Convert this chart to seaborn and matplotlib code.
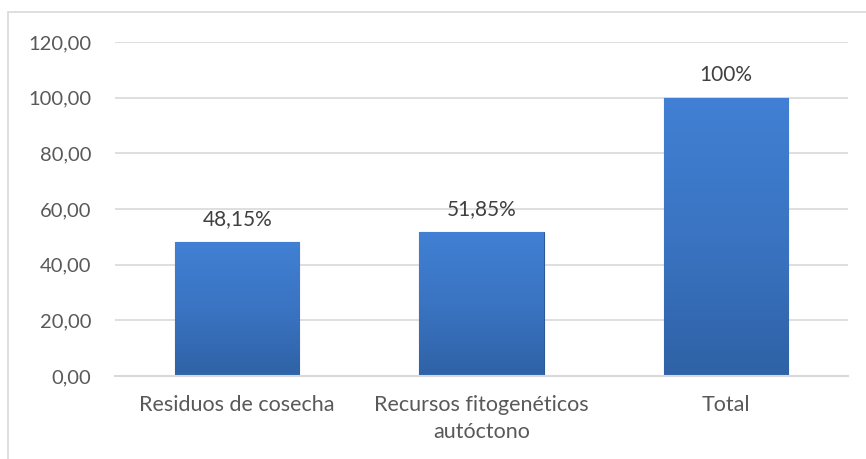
import numpy as np
import pandas as pd
import matplotlib
matplotlib.use("Agg")
import matplotlib.pyplot as plt
import seaborn as sns
from matplotlib.patches import Rectangle
from matplotlib.ticker import FuncFormatter

categories = ["Residuos de cosecha", "Recursos fitogenéticos\nautóctono", "Total"]
values = [48.15, 51.85, 100.0]
labels = ["48,15%", "51,85%", "100%"]
yticks = [0, 20, 40, 60, 80, 100, 120]

sns.set_theme(style="white")
plt.rcParams["font.family"] = ["Lato", "DejaVu Sans"]
text_color = "#595959"
grid_color = "#d9d9d9"

df = pd.DataFrame({"cat": categories, "val": values})

fig = plt.figure(figsize=(8.66, 4.59), dpi=100)
ax = fig.add_axes([115 / 866, 1 - 376 / 459, (848 - 115) / 866, (376 - 42) / 459])

sns.barplot(data=df, x="cat", y="val", ax=ax, color="#3b77c6", width=0.51,
            saturation=1, edgecolor="#2c5a96", linewidth=0.8)

# vertical gradient overlay on each bar to mimic the bevelled look
grad = np.linspace(0, 1, 256).reshape(-1, 1)
cmap = matplotlib.colors.LinearSegmentedColormap.from_list(
    "bar", ["#2f62a6", "#3a74c2", "#4180d4"])
for p in ax.patches:
    x0, w, h = p.get_x(), p.get_width(), p.get_height()
    im = ax.imshow(grad, extent=[x0, x0 + w, 0, h], origin="lower",
                   cmap=cmap, aspect="auto", zorder=p.get_zorder() + 0.1)
    im.set_clip_path(p)
ax.set_xlim(-0.5, 2.5)

ax.set_ylim(0, 120)
ax.set_yticks(yticks)
ax.yaxis.set_major_formatter(FuncFormatter(lambda v, _: f"{v:.2f}".replace(".", ",")))
ax.yaxis.grid(True, color=grid_color, linewidth=1.2)
ax.set_axisbelow(True)
for s in ["top", "right", "left"]:
    ax.spines[s].set_visible(False)
ax.spines["bottom"].set_color(grid_color)
ax.spines["bottom"].set_linewidth(1.5)
ax.tick_params(axis="y", length=0, labelsize=14.5, colors=text_color, pad=17)
ax.tick_params(axis="x", length=0, labelsize=15.5, colors=text_color, pad=14)
for t in ax.get_xticklabels():
    t.set_multialignment("center")
    t.set_linespacing(1.4)
ax.set_xlabel("")
ax.set_ylabel("")

for i, (v, lab) in enumerate(zip(values, labels)):
    ax.annotate(lab, (i, v), xytext=(0, 9), textcoords="offset points",
                ha="center", va="bottom", fontsize=15, color="#404040")

# outer chart border
fig.patches.append(Rectangle((8 / 866, -0.1), 1.2, 1 - 12 / 459 + 0.1,
                             transform=fig.transFigure, fill=False,
                             edgecolor=grid_color, linewidth=1.2))

fig.savefig("out.png", dpi=100)
